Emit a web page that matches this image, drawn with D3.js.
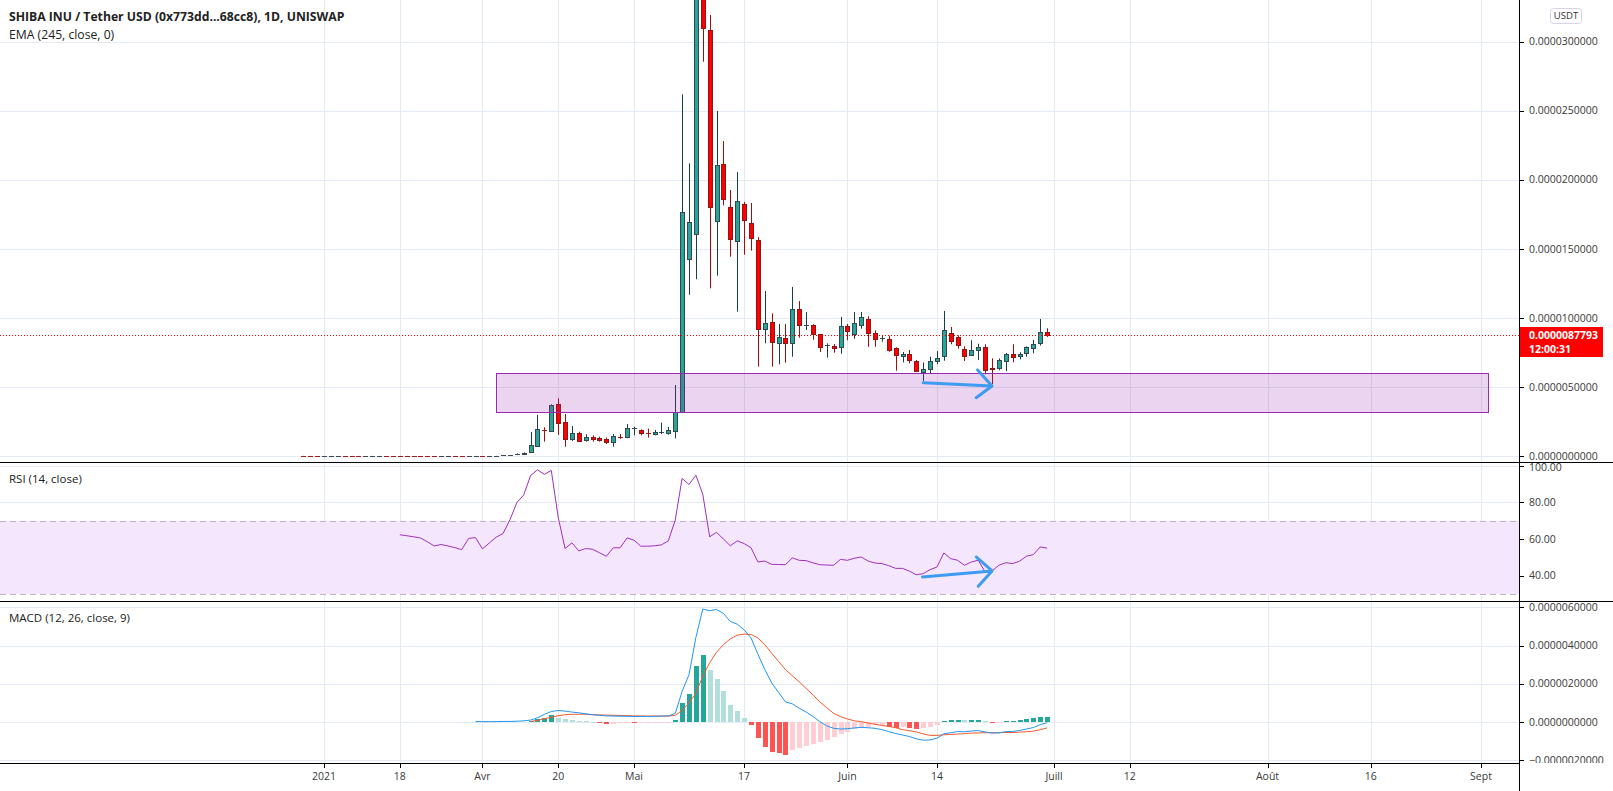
<!DOCTYPE html>
<html>
<head>
<meta charset="utf-8">
<script src="https://cdnjs.cloudflare.com/ajax/libs/d3/7.8.5/d3.min.js"></script>
<style>
body { margin: 0; background: #fff; }
svg { display: block; font-family: "Open Sans", sans-serif; }
</style>
</head>
<body>
<script>
// prices in 1e-6 USDT, one entry per daily bar (bar 0 = first bar)
const openU = [
  .030,.024,.020,.017,.019,.022,.025,.022,.020,.018,
  .021,.026,.029,.027,.025,.023,.021,.019,.017,.016,
  .015,.017,.019,.017,.016,.020,.024,.022,.026,.032,
  .045,.070,.140,.24,.70,1.93,1.83,3.77,2.44,1.25,
  1.69,1.11,1.38,1.28,1.23,.99,1.45,1.38,1.98,1.86,
  1.69,1.57,1.70,1.64,1.79,3.19,14.24,16.05,35.00,30.83,
  17.00,21.12,18.01,15.55,18.23,16.85,15.64,9.22,9.70,8.20,
  8.52,8.16,10.62,9.44,9.46,8.81,8.02,7.97,7.87,9.39,
  8.81,9.44,9.90,8.88,8.47,8.49,7.80,7.22,7.36,6.88,
  6.06,6.28,6.86,7.24,8.88,8.60,7.73,7.29,7.65,7.87,
  6.37,6.37,6.86,7.36,7.19,7.44,7.80,8.21,9.00];
const highU = [
  .032,.026,.022,.021,.024,.027,.026,.023,.021,.023,
  .028,.031,.030,.028,.026,.024,.022,.020,.021,.017,
  .019,.021,.020,.018,.022,.026,.025,.028,.034,.048,
  .075,.190,.260,1.74,2.97,2.08,3.74,4.18,3.04,2.17,
  1.76,1.57,1.50,1.40,1.33,1.59,1.59,2.32,2.12,1.93,
  1.98,1.88,2.41,2.10,5.14,26.19,21.19,40.50,38.00,31.93,
  24.98,22.81,19.26,20.56,18.40,18.32,15.84,11.95,10.33,9.56,
  9.56,12.24,11.22,10.43,9.54,8.83,8.16,8.11,10.07,9.56,
  10.43,10.43,10.12,9.10,8.74,8.71,7.87,7.53,7.68,6.95,
  6.78,7.19,7.60,10.50,9.34,8.74,7.94,8.38,8.13,8.09,
  7.07,7.07,7.46,8.09,7.51,7.94,8.40,9.92,9.25];
const lowU = [
  .022,.018,.015,.016,.018,.020,.020,.018,.016,.017,
  .020,.024,.025,.023,.021,.019,.018,.016,.015,.013,
  .014,.016,.016,.014,.015,.019,.020,.021,.025,.031,
  .044,.065,.130,.22,.65,1.04,1.74,1.52,.67,1.09,
  1.04,1.04,1.04,1.04,.87,.67,1.23,1.28,1.50,1.50,
  1.33,1.50,1.59,1.54,1.28,3.10,11.68,12.80,28.55,12.14,
  13.06,18.15,14.43,10.45,14.58,14.87,6.47,8.16,6.47,6.64,
  6.76,7.19,8.57,9.12,8.42,7.53,7.12,7.48,7.41,8.38,
  8.49,9.22,7.91,7.91,8.28,7.55,6.18,6.78,6.71,6.08,
  5.43,5.99,6.64,6.90,8.09,7.77,6.88,7.24,6.95,5.92,
  5.21,6.21,6.15,6.78,7.00,7.19,7.44,8.00,8.62];
const closeU = [
  .024,.020,.017,.019,.022,.025,.022,.020,.018,.021,
  .026,.029,.027,.025,.023,.021,.019,.017,.016,.015,
  .017,.019,.017,.016,.020,.024,.022,.026,.032,.045,
  .070,.140,.240,.78,1.93,1.85,3.69,2.37,1.21,1.67,
  1.11,1.35,1.23,1.11,.99,1.43,1.40,2.01,2.00,1.64,
  1.64,1.74,1.72,1.88,3.19,17.65,16.92,36.20,31.01,18.01,
  21.05,18.56,15.69,18.44,17.07,15.76,9.17,9.63,8.23,8.62,
  8.16,10.62,9.46,9.48,8.81,7.87,8.05,7.84,9.39,9.00,
  9.61,10.04,8.88,8.45,8.51,7.70,7.26,7.39,6.93,6.13,
  6.28,6.86,7.10,9.10,8.31,8.02,7.19,7.65,7.87,6.21,
  6.28,6.95,7.36,7.15,7.36,7.87,8.09,9.00,8.7793];

// RSI(14) from bar 14
const rsiStart = 14;
const rsiVals = [
  62.3,61.8,61.2,60.6,58.5,56.2,57.0,56.2,55.3,54.2,
  60.3,60.8,54.6,57.8,61.0,63.0,70.5,79.8,84.0,94.6,
  97.7,95.2,97.4,72.0,54.8,57.9,53.5,54.8,54.4,52.5,
  50.6,55.2,55.2,60.6,59.4,56.1,56.1,56.3,56.8,59.0,
  70.3,93.0,89.7,94.8,84.4,61.2,63.6,60.0,56.3,59.0,
  57.5,55.3,47.5,48.0,46.2,46.1,46.0,49.7,48.4,48.2,
  47.0,46.0,45.8,45.7,48.9,48.4,49.5,50.2,48.0,46.9,
  46.6,45.5,44.0,44.0,42.5,40.5,41.1,43.3,44.7,52.4,
  49.3,48.4,45.7,47.5,48.4,42.0,42.6,45.7,47.1,46.6,
  47.9,50.6,51.5,55.7,55.0];

// MACD(12,26,9) in 1e-6
const macdStart = 25;
const macdVals = [
  .02,.02,.02,.02,.03,.03,.04,.06,.10,.22,
  .40,.55,.60,.57,.52,.48,.43,.38,.35,.32,
  .31,.30,.30,.29,.29,.29,.30,.31,.32,.45,
  1.60,2.48,4.42,5.91,5.82,5.89,5.68,5.26,5.12,4.82,
  4.40,3.55,2.75,2.05,1.55,1.05,.95,.72,.52,.29,
  .02,-.20,-.33,-.37,-.35,-.31,-.28,-.30,-.33,-.40,
  -.50,-.60,-.68,-.76,-.88,-.95,-.94,-.85,-.62,-.56,
  -.50,-.51,-.47,-.45,-.52,-.58,-.57,-.50,-.50,-.44,
  -.37,-.29,-.14,-.04];
const signalStart = 33;
const signalVals = [
  .03,.08,.17,.25,.33,.38,.40,.41,.40,.38,
  .37,.36,.35,.34,.33,.32,.32,.31,.31,.31,
  .31,.35,.60,1.00,1.50,2.40,3.10,3.65,4.05,4.35,
  4.54,4.60,4.58,4.40,4.05,3.60,3.17,2.74,2.42,2.10,
  1.76,1.42,1.05,.75,.45,.28,.16,.06,.02,-.05,
  -.12,-.18,-.23,-.30,-.40,-.45,-.52,-.62,-.70,-.70,
  -.67,-.65,-.63,-.61,-.58,-.57,-.56,-.56,-.56,-.55,
  -.55,-.53,-.51,-.48,-.40,-.31];
const histVals = [
  .05,.14,.23,.37,.23,.16,.12,.07,.04,.02,
  -.02,-.09,-.08,-.05,-.02,-.03,-.03,-.03,-.03,-.03,
  -.01,.10,1.00,1.48,2.92,3.51,2.72,2.24,1.63,.91,
  .58,.22,-.18,-.85,-1.30,-1.55,-1.62,-1.72,-1.47,-1.38,
  -1.24,-1.13,-1.03,-.92,-.78,-.65,-.51,-.37,-.30,-.25,
  -.17,-.16,-.27,-.30,-.28,-.31,-.36,-.33,-.24,-.15,
  .05,.09,.13,.10,.11,.12,.04,-.02,-.01,.05,
  .06,.09,.14,.19,.26,.27];

// time axis (bar index of each label)
const xTickLabels = ['2021','18','Avr','20','Mai','17','Juin','14','Juill','12','Août','16','Sept'];
const xTickBars   = [3, 14, 26, 37, 48, 64, 79, 92, 109, 120, 140, 155, 171];
const priceTicks = [0, 5, 10, 15, 20, 25, 30];
const rsiTicks = [40, 60, 80, 100];
const macdTicks = [-2, 0, 2, 4, 6];

// drawings
const zoneBars = [28, 172], zonePrices = [3.21, 6.0];
const arrowMainBars = [90, 100, 97.9, 97.7], arrowMainPrices = [5.31, 5.07, 6.23, 4.22];
const arrowRsiBars = [89.9, 100, 97.7, 98], arrowRsiVals = [39.3, 42.6, 50.2, 34.2];

const W = 1613, H = 791, axisX = 1519;
const mainTop = 0, mainBot = 462, rsiBot = 601, macdBot = 763;

const svg = d3.select('body').append('svg').attr('width', W).attr('height', H);

const x = d3.scaleLinear().domain([3, 171]).range([324, 1481]);
const yP = d3.scaleLinear().domain([0, 30]).range([456, 41.7]);
const yR = d3.scaleLinear().domain([40, 80]).range([575.7, 502.3]);
const yM = d3.scaleLinear().domain([0, 6]).range([722, 607.3]);

const defs = svg.append('defs');
function clip(id, y0, y1, w) {
  defs.append('clipPath').attr('id', id).append('rect')
    .attr('x', 0).attr('y', y0).attr('width', w).attr('height', y1 - y0);
}
clip('cMain', mainTop, mainBot, axisX);
clip('cRsi', mainBot, rsiBot, axisX);
clip('cMacd', rsiBot, macdBot, axisX);
clip('lMain', mainTop, mainBot, W);
clip('lRsi', mainBot, rsiBot, W);
clip('lMacd', rsiBot, macdBot, W);

const gridColor = '#e3eaf1';
const crisp = v => Math.round(v) + 0.5;

// grid
const grid = svg.append('g');
grid.selectAll('line.v').data(xTickBars).join('line')
  .attr('x1', d => crisp(x(d))).attr('x2', d => crisp(x(d)))
  .attr('y1', 0).attr('y2', macdBot).attr('stroke', gridColor);
grid.selectAll('line.p').data(priceTicks).join('line')
  .attr('x1', 0).attr('x2', axisX).attr('y1', d => crisp(yP(d))).attr('y2', d => crisp(yP(d)))
  .attr('stroke', gridColor);
grid.selectAll('line.r').data(rsiTicks).join('line')
  .attr('x1', 0).attr('x2', axisX).attr('y1', d => crisp(yR(d))).attr('y2', d => crisp(yR(d)))
  .attr('stroke', gridColor);
grid.selectAll('line.m').data(macdTicks).join('line')
  .attr('x1', 0).attr('x2', axisX).attr('y1', d => crisp(yM(d))).attr('y2', d => crisp(yM(d)))
  .attr('stroke', gridColor);

// ---- main pane
const main = svg.append('g').attr('clip-path', 'url(#cMain)');
const candles = openU.map((o, i) => ({ i, o, h: highU[i], l: lowU[i], c: closeU[i] }));
const up = d => d.c >= d.o;
const bodyPx = d => Math.abs(yP(d.o) - yP(d.c));

const cg = main.selectAll('g.candle').data(candles).join('g');
cg.append('line')
  .attr('x1', d => Math.round(x(d.i)) + 0.5).attr('x2', d => Math.round(x(d.i)) + 0.5)
  .attr('y1', d => yP(d.h)).attr('y2', d => yP(d.l))
  .attr('stroke', d => up(d) ? '#163f47' : '#a10d0d').attr('stroke-width', 1);
// bodies of a pixel or more
cg.filter(d => bodyPx(d) >= 1.2).append('rect')
  .attr('x', d => Math.round(x(d.i)) - 1.5)
  .attr('width', 4)
  .attr('y', d => Math.round(yP(Math.max(d.o, d.c))) + 0.5)
  .attr('height', d => Math.max(1, Math.round(bodyPx(d))))
  .attr('fill', d => up(d) ? '#26a69a' : '#ff0000')
  .attr('stroke', d => up(d) ? '#37474f' : '#8e1616').attr('stroke-width', 1);
// flat bodies drawn as a dash
cg.filter(d => bodyPx(d) < 1.2).append('line')
  .attr('x1', d => Math.round(x(d.i)) - 2).attr('x2', d => Math.round(x(d.i)) + 3)
  .attr('y1', d => crisp(yP(d.c))).attr('y2', d => crisp(yP(d.c)))
  .attr('stroke', d => up(d) ? '#3c4852' : '#9e1c1c').attr('stroke-width', 1);

// support zone
main.append('rect')
  .attr('x', crisp(x(zoneBars[0]))).attr('width', Math.round(x(zoneBars[1]) - x(zoneBars[0])))
  .attr('y', crisp(yP(zonePrices[1]))).attr('height', Math.round(yP(zonePrices[0]) - yP(zonePrices[1])))
  .attr('fill', 'rgba(156,39,176,0.2)').attr('stroke', '#9c27b0').attr('stroke-width', 1);

// last price line
const lastClose = closeU[closeU.length - 1];
main.append('line').attr('x1', 0).attr('x2', axisX)
  .attr('y1', crisp(yP(lastClose))).attr('y2', crisp(yP(lastClose)))
  .attr('stroke', '#ff0000').attr('stroke-dasharray', '1,2');

function arrow(g, bars, vals, ys) {
  const p = bars.map((b, k) => [x(b), ys(vals[k])]);
  const path = `M${p[0]}L${p[1]}M${p[2]}L${p[1]}L${p[3]}`;
  g.append('path').attr('d', path).attr('fill', 'none')
    .attr('stroke', '#3d9cf2').attr('stroke-width', 3)
    .attr('stroke-linecap', 'round').attr('stroke-linejoin', 'round');
}
arrow(main, arrowMainBars, arrowMainPrices, yP);

// ---- RSI pane
const rsi = svg.append('g').attr('clip-path', 'url(#cRsi)');
rsi.append('rect').attr('x', 0).attr('width', axisX)
  .attr('y', yR(70)).attr('height', yR(30) - yR(70)).attr('fill', '#f4e7fd');
[70, 30].forEach(v => rsi.append('line').attr('x1', 0).attr('x2', axisX)
  .attr('y1', crisp(yR(v))).attr('y2', crisp(yR(v)))
  .attr('stroke', '#bcb5c4').attr('stroke-dasharray', '6,4'));
rsi.append('path').datum(rsiVals)
  .attr('d', d3.line().x((d, k) => x(rsiStart + k)).y(d => yR(d)))
  .attr('fill', 'none').attr('stroke', '#a02fbd').attr('stroke-width', 1);
arrow(rsi, arrowRsiBars, arrowRsiVals, yR);

// ---- MACD pane
const macd = svg.append('g').attr('clip-path', 'url(#cMacd)');
const histColor = (v, k) => {
  const prev = k > 0 ? histVals[k - 1] : 0;
  if (v >= 0) return v > prev ? '#26a69a' : '#b2dfdb';
  return v < prev ? '#ff5252' : '#ffcdd2';
};
macd.selectAll('rect.h').data(histVals).join('rect')
  .attr('x', (d, k) => Math.round(x(signalStart + k)) - 2).attr('width', 5)
  .attr('y', d => Math.round(Math.min(yM(d), yM(0))))
  .attr('height', d => Math.max(1, Math.round(Math.abs(yM(d) - yM(0)))))
  .attr('fill', histColor);
macd.append('path').datum(signalVals)
  .attr('d', d3.line().x((d, k) => x(signalStart + k)).y(d => yM(d)))
  .attr('fill', 'none').attr('stroke', '#f65a2b').attr('stroke-width', 1);
macd.append('path').datum(macdVals)
  .attr('d', d3.line().x((d, k) => x(macdStart + k)).y(d => yM(d)))
  .attr('fill', 'none').attr('stroke', '#2196f3').attr('stroke-width', 1);

// ---- separators and axes
const frame = svg.append('g').attr('stroke', '#000').attr('stroke-width', 1);
[mainBot, rsiBot].forEach(y => frame.append('line')
  .attr('x1', 0).attr('x2', W).attr('y1', y + 0.5).attr('y2', y + 0.5));
frame.append('line').attr('x1', 0).attr('x2', axisX).attr('y1', macdBot + 0.5).attr('y2', macdBot + 0.5);
frame.append('line').attr('x1', axisX + 0.5).attr('x2', axisX + 0.5).attr('y1', 0).attr('y2', H);

const fmt = v => {
  const s = Math.abs(v * 1e-6).toFixed(10);
  return (v < 0 ? '\u2212' : '') + s;
};
function priceAxis(ticks, ys, label, clipId, shift) {
  const g = svg.append('g').attr('clip-path', `url(#${clipId})`);
  g.selectAll('line').data(ticks).join('line')
    .attr('x1', axisX).attr('x2', axisX + 5)
    .attr('y1', d => crisp(ys(d))).attr('y2', d => crisp(ys(d))).attr('stroke', '#000');
  g.selectAll('text').data(ticks).join('text')
    .attr('x', axisX + 10).attr('y', d => ys(d) + shift(d)).attr('dy', '0.35em')
    .attr('font-size', 10.5).attr('fill', '#3a3a3a').text(label);
}
priceAxis(priceTicks, yP, fmt, 'lMain', () => 0);
priceAxis(rsiTicks, yR, d => d.toFixed(2), 'lRsi', d => d === 100 ? 2 : 0);
priceAxis(macdTicks, yM, fmt, 'lMacd', () => 0);

// time axis
const xa = svg.append('g');
xa.selectAll('line').data(xTickBars).join('line')
  .attr('x1', d => crisp(x(d))).attr('x2', d => crisp(x(d)))
  .attr('y1', macdBot).attr('y2', macdBot + 5).attr('stroke', '#000');
xa.selectAll('text').data(xTickLabels).join('text')
  .attr('x', (d, k) => x(xTickBars[k])).attr('y', 776).attr('dy', '0.35em')
  .attr('text-anchor', 'middle').attr('font-size', 10.5).attr('fill', '#3a3a3a').text(d => d);

// last price label
const ly = yP(lastClose);
svg.append('rect').attr('x', axisX + 1).attr('y', Math.round(ly) - 8).attr('width', 83).attr('height', 30).attr('fill', '#ff0000');
svg.append('text').attr('x', axisX + 10).attr('y', ly + 1).attr('dy', '0.35em')
  .attr('font-size', 10.5).attr('font-weight', 700).attr('fill', '#fff').text((lastClose * 1e-6).toFixed(10));
svg.append('text').attr('x', axisX + 10).attr('y', ly + 15).attr('dy', '0.35em')
  .attr('font-size', 10.5).attr('font-weight', 700).attr('fill', '#fff').text('12:00:31');

// currency badge
svg.append('rect').attr('x', 1550.5).attr('y', 8.5).attr('width', 31).attr('height', 15).attr('rx', 3)
  .attr('fill', '#fff').attr('stroke', '#d6d3e6');
svg.append('text').attr('x', 1566).attr('y', 16).attr('dy', '0.35em').attr('text-anchor', 'middle')
  .attr('font-size', 9.5).attr('fill', '#333').text('USDT');

// legends
svg.append('text').attr('x', 9).attr('y', 21).attr('font-size', 12.2).attr('font-weight', 700)
  .attr('fill', '#222').text('SHIBA INU / Tether USD (0x773dd...68cc8), 1D, UNISWAP');
svg.append('text').attr('x', 9).attr('y', 38.5).attr('font-size', 12.2)
  .attr('fill', '#222').text('EMA (245, close, 0)');
svg.append('text').attr('x', 9).attr('y', 483).attr('font-size', 11.5)
  .attr('fill', '#222').text('RSI (14, close)');
svg.append('text').attr('x', 9).attr('y', 622).attr('font-size', 11.5)
  .attr('fill', '#222').text('MACD (12, 26, close, 9)');
</script>
</body>
</html>
